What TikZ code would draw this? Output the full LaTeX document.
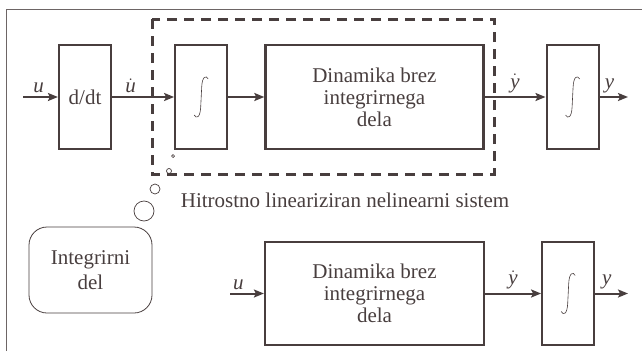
\documentclass[tikz,border=0pt]{standalone}
\usepackage{fontspec}
\setmainfont{Liberation Serif}
\usetikzlibrary{positioning,arrows.meta}

\definecolor{crta}{RGB}{72,62,62}

\tikzset{
  blok/.style={draw=crta,line width=2.2pt,inner sep=0pt,minimum height=104pt,
    align=center,text=crta,font=\fontsize{21}{22}\selectfont},
  intblok/.style={blok,minimum width=52pt},
  oznaka/.style={text=crta,font=\fontsize{21}{22}\selectfont,inner sep=3pt},
  intsign/.pic={
    \draw[crta,line width=0.6pt]
      (7,-18) .. controls (5,-22) and (1,-21) .. (0.5,-10)
      -- (-0.5,10) .. controls (-1,21) and (-5,22) .. (-7,18);
  },
  mehurcek/.style={draw=crta,line width=0.7pt}
}

\begin{document}
\begin{tikzpicture}[x=1pt,y=-1pt,>={Stealth[length=10pt,width=8pt,inset=2pt]},
  node distance=62pt]

  \useasboundingbox (0,0) rectangle (642,351);

  % Okvir
  \draw[crta!80,line width=0.8pt] (6,351) -- (6,9) -- (642,9);

  % Zgornja veja
  \coordinate (u1) at (23,97);
  \node[blok,minimum width=52pt] (D) at (85,97) {d/dt};
  \node[intblok,right=62pt of D] (I1) {};
  \node[blok,minimum width=218pt,right=36pt of I1] (Dyn1) {Dinamika brez\\integrirnega\\dela};
  \node[intblok,right=61pt of Dyn1] (I2) {};
  \coordinate (y1) at (628,97);

  \pic at (I1) {intsign};
  \pic at (I2) {intsign};

  % Linearizirani sistem
  \draw[crta,line width=3pt,dash pattern=on 10pt off 7pt] (152,19) rectangle (494,174);
  \node[oznaka] (sis) at (345,200) {Hitrostno lineariziran nelinearni sistem};

  % Oblacek
  \node[draw=crta,line width=0.8pt,rounded corners=18pt,minimum width=123pt,
    minimum height=86pt,align=center,text=crta,font=\fontsize{21}{25}\selectfont]
    (int) at (90.5,270) {\raisebox{-5pt}{Integrirni}\\\raisebox{-5pt}{del}};
  \draw[mehurcek] (144,211) circle (10);
  \draw[mehurcek] (155,189) circle (5);
  \draw[mehurcek] (169,171) circle (2.5);
  \draw[mehurcek] (173,156) circle (1.5);

  % Spodnja veja
  \coordinate (u2) at (230,293.5);
  \node[blok,minimum width=219pt,minimum height=103pt] (Dyn2) at (374.5,293.5) {Dinamika brez\\integrirnega\\dela};
  \node[intblok,minimum height=103pt,right=56pt of Dyn2] (I3) {};
  \coordinate (y2) at (628,293.5);

  \pic at (I3) {intsign};

  % Povezave
  \path[->,crta,line width=2pt]
    (u1) edge node[oznaka,above,pos=0.45] {\textit{u}} (D)
    (D) edge node[oznaka,above,pos=0.3] {$\dot{\textit{u}}$} (I1)
    (I1) edge (Dyn1)
    (Dyn1) edge node[oznaka,above,pos=0.5] {$\dot{\textit{y}}$} (I2)
    (I2) edge node[oznaka,above,pos=0.35] {\textit{y}} (y1)
    (u2) edge node[oznaka,above,pos=0.25] {\textit{u}} (Dyn2)
    (Dyn2) edge node[oznaka,above,pos=0.5] {$\dot{\textit{y}}$} (I3)
    (I3) edge node[oznaka,above,pos=0.35] {\textit{y}} (y2);

\end{tikzpicture}
\end{document}
